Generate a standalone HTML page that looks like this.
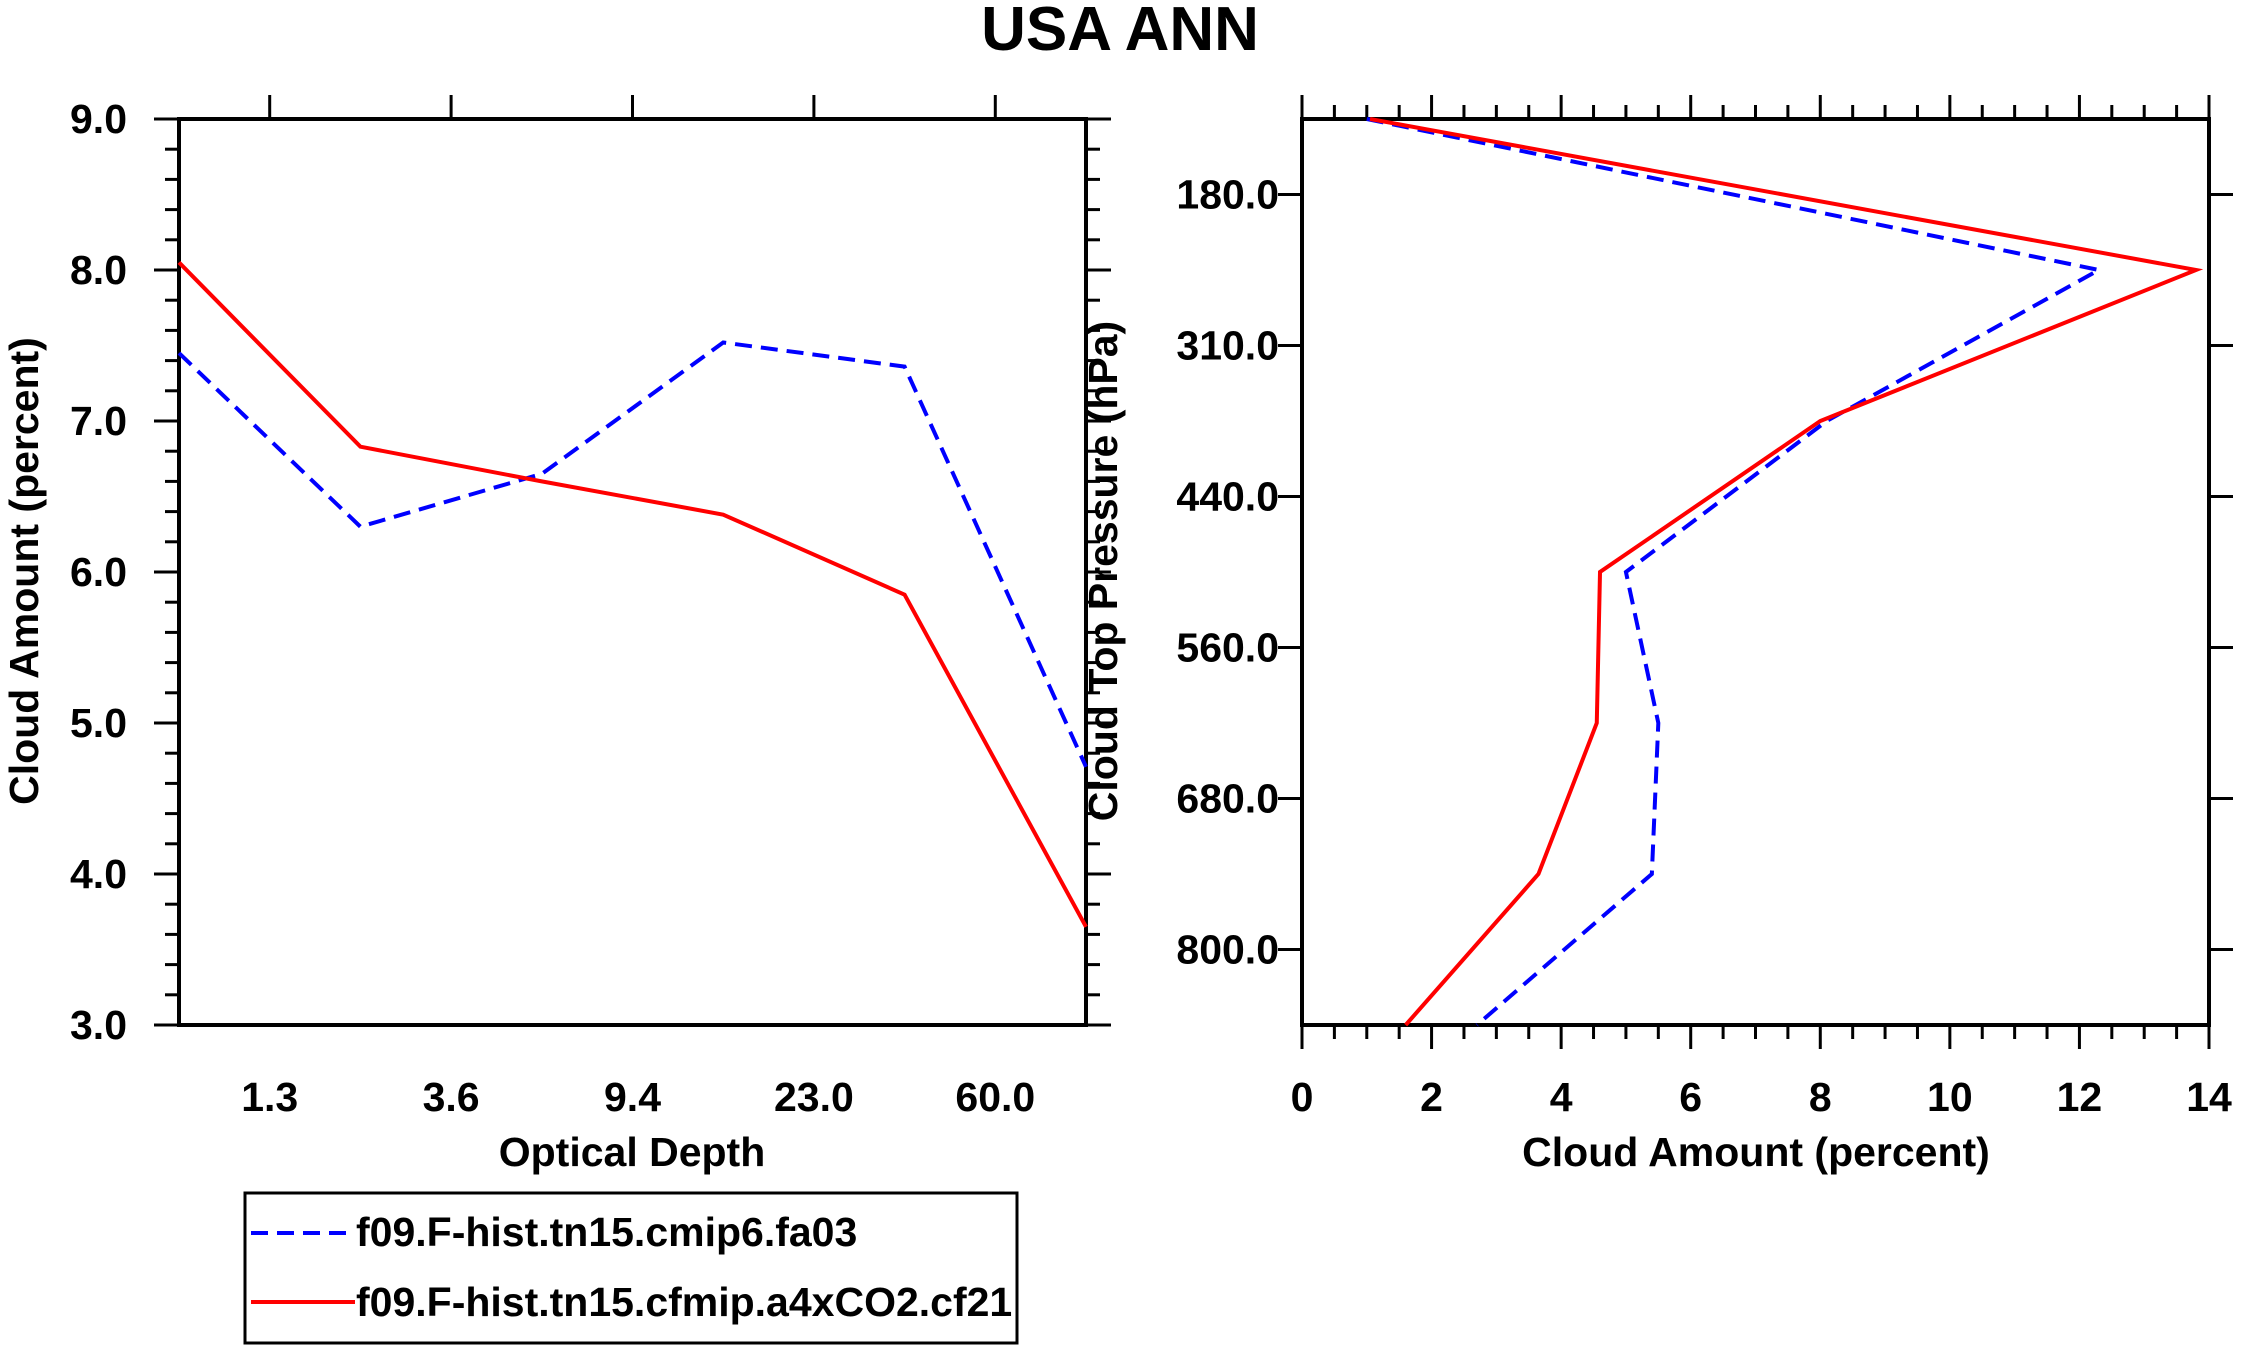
<!DOCTYPE html>
<html><head><meta charset="utf-8"><style>
html,body{margin:0;padding:0;background:#fff;}
svg{display:block;font-family:"Liberation Sans",Arial,sans-serif;font-weight:bold;}
</style></head><body>
<svg id="chart" width="2241" height="1351" viewBox="0 0 2241 1351" xmlns="http://www.w3.org/2000/svg">
<text x="1120" y="50" font-size="62" text-anchor="middle">USA ANN</text>
<g id="left"></g>
<g id="right"></g>
<g>
<rect x="245" y="1193" width="772" height="150" fill="none" stroke="#000" stroke-width="3"/>
<line x1="251" y1="1233" x2="355" y2="1233" stroke="#0000ff" stroke-width="4" stroke-dasharray="17,9"/>
<text x="356" y="1246" font-size="41">f09.F-hist.tn15.cmip6.fa03</text>
<line x1="251" y1="1302" x2="355" y2="1302" stroke="#ff0000" stroke-width="4"/>
<text x="356" y="1316" font-size="41">f09.F-hist.tn15.cfmip.a4xCO2.cf21</text>
</g>
</svg>
<script>
// Left panel data
const odLabels = ["1.3","3.6","9.4","23.0","60.0"];
const odBlue = [7.45, 6.30, 6.65, 7.52, 7.36, 4.71];
const odRed = [8.05, 6.83, 6.60, 6.38, 5.85, 3.65];
const yTicksLeft = [3,4,5,6,7,8,9];
// Right panel data
const pLabels = ["180.0","310.0","440.0","560.0","680.0","800.0"];
const pBlue = [1.0, 12.3, 8.1, 5.0, 5.5, 5.4, 2.7];
const pRed = [1.05, 13.8, 8.0, 4.6, 4.55, 3.65, 1.6];
const xTicksRight = [0,2,4,6,8,10,12,14];

const NS="http://www.w3.org/2000/svg";
function mk(parent,tag,attrs,text){const e=document.createElementNS(NS,tag);for(const k in attrs)e.setAttribute(k,attrs[k]);if(text!==undefined)e.textContent=text;parent.appendChild(e);return e;}
const L=document.getElementById('left'), R=document.getElementById('right');
const FS=41;

// ---- Left panel ----
const lx0=179,lx1=1086,ly0=119,ly1=1025;
const lxs=i=>lx0+i*(lx1-lx0)/(odBlue.length-1);
const lys=v=>ly1-(v-3)/6*(ly1-ly0);
let fr=mk(L,'rect',{x:lx0,y:ly0,width:lx1-lx0,height:ly1-ly0,fill:'none',stroke:'#000','stroke-width':4});


for(let v=3;v<=9.0001;v+=0.2){
  const major=Math.abs(v-Math.round(v))<0.01;
  const y=lys(v), len=major?25:14;
  const t1=mk(L,'line',{x1:lx0-len,y1:y,x2:lx0,y2:y,stroke:'#000','stroke-width':3});
  
  
  const t2=mk(L,'line',{x1:lx1,y1:y,x2:lx1+len,y2:y,stroke:'#000','stroke-width':3});
  
  
}
yTicksLeft.forEach(v=>{
  const t=mk(L,'text',{x:127,y:lys(v)+14,'font-size':FS,'text-anchor':'end'},v.toFixed(1));
  
  
});
odLabels.forEach((s,i)=>{
  const x=lxs(i+0.5);
  const tk=mk(L,'line',{x1:x,y1:ly0,x2:x,y2:ly0-24,stroke:'#000','stroke-width':3});
  
  
  const t=mk(L,'text',{x:x,y:1111,'font-size':FS,'text-anchor':'middle'},s);
  
  
});
let at=mk(L,'text',{x:632,y:1166,'font-size':FS,'text-anchor':'middle'},'Optical Depth');


at=mk(L,'text',{x:0,y:0,'font-size':FS,'text-anchor':'middle',transform:'translate(38,571) rotate(-90)'},'Cloud Amount (percent)');


let pb=mk(L,'polyline',{points:odBlue.map((v,i)=>lxs(i)+','+lys(v)).join(' '),fill:'none',stroke:'#0000ff','stroke-width':4,'stroke-dasharray':'17,9'});


let pr=mk(L,'polyline',{points:odRed.map((v,i)=>lxs(i)+','+lys(v)).join(' '),fill:'none',stroke:'#ff0000','stroke-width':4});



// ---- Right panel ----
const rx0=1302,rx1=2209,ry0=119,ry1=1025;
const rxs=v=>rx0+v/14*(rx1-rx0);
const rys=i=>ry0+i*(ry1-ry0)/(pBlue.length-1);
fr=mk(R,'rect',{x:rx0,y:ry0,width:rx1-rx0,height:ry1-ry0,fill:'none',stroke:'#000','stroke-width':4});


for(let v=0;v<=14.001;v+=0.5){
  const major=Math.abs(v/2-Math.round(v/2))<0.01;
  const x=rxs(v), len=major?24:14;
  const t1=mk(R,'line',{x1:x,y1:ry1,x2:x,y2:ry1+len,stroke:'#000','stroke-width':3});
  
  
  const t2=mk(R,'line',{x1:x,y1:ry0,x2:x,y2:ry0-len,stroke:'#000','stroke-width':3});
  
  
}
xTicksRight.forEach(v=>{
  const t=mk(R,'text',{x:rxs(v),y:1111,'font-size':FS,'text-anchor':'middle'},String(v));
  
  
});
pLabels.forEach((s,i)=>{
  const y=rys(i+0.5);
  const t1=mk(R,'line',{x1:rx0-24,y1:y,x2:rx0,y2:y,stroke:'#000','stroke-width':3});
  
  
  const t2=mk(R,'line',{x1:rx1,y1:y,x2:rx1+24,y2:y,stroke:'#000','stroke-width':3});
  
  
  const t=mk(R,'text',{x:1279,y:y+14,'font-size':FS,'text-anchor':'end'},s);
  
  
});
at=mk(R,'text',{x:1756,y:1166,'font-size':FS,'text-anchor':'middle'},'Cloud Amount (percent)');


at=mk(R,'text',{x:0,y:0,'font-size':FS,'text-anchor':'middle',transform:'translate(1117,571) rotate(-90)'},'Cloud Top Pressure (hPa)');


pb=mk(R,'polyline',{points:pBlue.map((v,i)=>rxs(v)+','+rys(i)).join(' '),fill:'none',stroke:'#0000ff','stroke-width':4,'stroke-dasharray':'17,9'});


pr=mk(R,'polyline',{points:pRed.map((v,i)=>rxs(v)+','+rys(i)).join(' '),fill:'none',stroke:'#ff0000','stroke-width':4});


</script>
</body></html>
